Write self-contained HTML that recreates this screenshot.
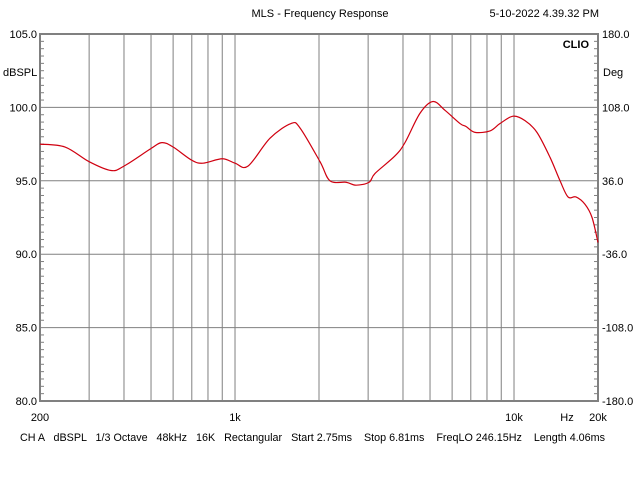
<!DOCTYPE html>
<html><head><meta charset="utf-8"><style>
body{margin:0;background:#fff;}
svg{display:block;font-family:"Liberation Sans",Arial,sans-serif;font-size:11px;}
</style></head><body>
<svg id="chart" width="640" height="480" viewBox="0 0 640 480">
<g id="grid"></g>
<g id="axes"></g>
<g id="series"></g>
<text x="320" y="17" text-anchor="middle">MLS - Frequency Response</text>
<text x="599" y="17" text-anchor="end">5-10-2022 4.39.32 PM</text>
<text x="589" y="48" text-anchor="end" font-weight="bold">CLIO</text>
<text x="3" y="76">dBSPL</text>
<text x="603" y="76">Deg</text>
<text x="567" y="421" text-anchor="middle">Hz</text>
<text x="20" y="441" textLength="585" lengthAdjust="spacingAndGlyphs" xml:space="preserve">CH A   dBSPL   1/3 Octave   48kHz   16K   Rectangular   Start 2.75ms    Stop 6.81ms    FreqLO 246.15Hz    Length 4.06ms</text>
</svg>
<script>
const freqs=[200,246,300,359,400,500,547,600,700,768,900,1000,1113,1335,1588,1710,2017,2190,2500,2715,3023,3176,3746,4066,4603,5124,5658,6405,6730,7248,8204,8908,9920,10950,12084,13460,14620,15614,16680,17960,19040,20000];
const spl=[97.5,97.3,96.3,95.7,96.0,97.2,97.6,97.3,96.4,96.2,96.5,96.2,96.0,97.9,98.9,98.6,96.3,95.0,94.9,94.7,94.9,95.5,96.7,97.6,99.6,100.4,99.8,98.9,98.7,98.3,98.4,98.9,99.4,99.1,98.3,96.6,95.0,93.9,93.9,93.4,92.5,90.8];
const yTicks=[105,100,95,90,85,80];
const yTickLabels=["105.0","100.0","95.0","90.0","85.0","80.0"];
const y2TickLabels=["180.0","108.0","36.0","-36.0","-108.0","-180.0"];
const xGrid=[300,400,500,600,700,800,900,1000,2000,3000,4000,5000,6000,7000,8000,9000,10000];
const xLabelVals=[200,1000,10000,20000];
const xLabels=["200","1k","10k","20k"];
const L=40,R=598,T=34,B=401,fMin=200,fMax=20000,yMin=80,yMax=105;
const xs=f=>L+(R-L)*Math.log10(f/fMin)/Math.log10(fMax/fMin);
const ys=v=>B-(B-T)*(v-yMin)/(yMax-yMin);
const NS="http://www.w3.org/2000/svg";
function mk(tag,attrs,parent,txt){const e=document.createElementNS(NS,tag);for(const k in attrs)e.setAttribute(k,attrs[k]);if(txt!==undefined)e.textContent=txt;parent.appendChild(e);return e;}
const grid=document.getElementById('grid'),axes=document.getElementById('axes'),series=document.getElementById('series');
xGrid.forEach(f=>{const l=mk('line',{x1:xs(f),x2:xs(f),y1:T,y2:B,stroke:'#808080','stroke-width':1},grid);

});
yTicks.forEach((v,i)=>{const l=mk('line',{x1:L,x2:R,y1:ys(v),y2:ys(v),stroke:'#808080','stroke-width':1},grid);


const t=mk('text',{x:L-3,y:ys(v)+4,'text-anchor':'end'},axes,yTickLabels[i]);


const t2=mk('text',{x:R+4,y:ys(v)+4},axes,y2TickLabels[i]);

});
for(let v=80.5;v<105;v+=0.5){if(v%5===0)continue;
const m=mk('line',{x1:L,x2:L+4,y1:ys(v),y2:ys(v),stroke:'#808080'},axes);


const m2=mk('line',{x1:R-4,x2:R,y1:ys(v),y2:ys(v),stroke:'#808080'},axes);

}
xLabelVals.forEach((f,i)=>{const t=mk('text',{x:xs(f),y:421,'text-anchor':'middle'},axes,xLabels[i]);

});
const fr=mk('rect',{x:L,y:T,width:R-L,height:B-T,fill:'none',stroke:'#808080','stroke-width':2},axes);


const pts=freqs.map((f,i)=>[xs(f),ys(spl[i])]);
let d='M'+pts[0][0]+','+pts[0][1];
for(let i=0;i<pts.length-1;i++){const p0=pts[Math.max(0,i-1)],p1=pts[i],p2=pts[i+1],p3=pts[Math.min(pts.length-1,i+2)];
d+=' C'+(p1[0]+(p2[0]-p0[0])/6)+','+(p1[1]+(p2[1]-p0[1])/6)+' '+(p2[0]-(p3[0]-p1[0])/6)+','+(p2[1]-(p3[1]-p1[1])/6)+' '+p2[0]+','+p2[1];}
const line=mk('path',{d:d,fill:'none',stroke:'#d00010','stroke-width':1.2},series);


</script>
</body></html>
